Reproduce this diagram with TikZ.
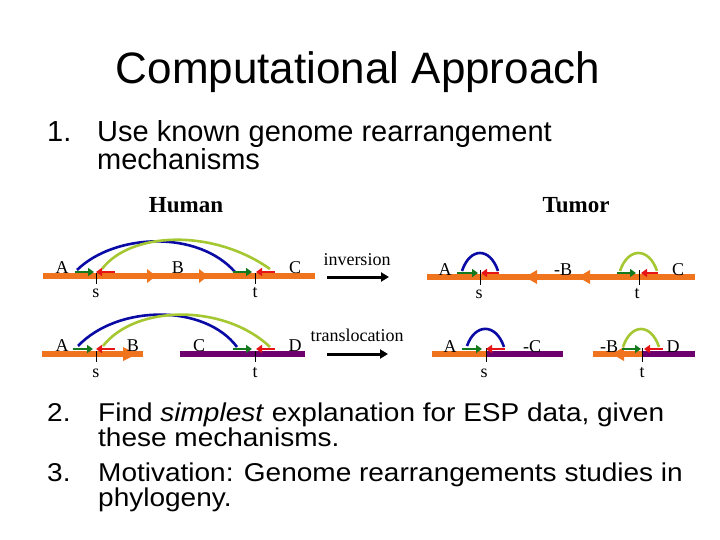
\documentclass[tikz,border=0pt]{standalone}
\usepackage{fontspec}
\setmainfont{Liberation Sans}
\newfontfamily\serif{Liberation Serif}
\usetikzlibrary{arrows.meta}
\definecolor{gorange}{RGB}{240,115,30}
\definecolor{gpurple}{RGB}{110,0,110}
\definecolor{gblue}{RGB}{10,10,165}
\definecolor{gyellow}{RGB}{165,200,50}
\definecolor{ggreen}{RGB}{20,120,30}
\definecolor{gred}{RGB}{230,20,20}
\begin{document}
\begin{tikzpicture}[x=1pt,y=-1pt,
  lbl/.style={font=\serif\fontsize{18}{21}\selectfont, anchor=base, inner sep=0pt},
  head/.style={font=\serif\bfseries\fontsize{23}{26}\selectfont, anchor=base, inner sep=0pt},
  op/.style={font=\serif\fontsize{18}{21}\selectfont, anchor=base, inner sep=0pt},
  item/.style={anchor=base west, inner sep=0pt, font=\fontsize{29}{34}\selectfont},
  itemb/.style={anchor=base west, inner sep=0pt, font=\fontsize{28}{32}\selectfont},
  chrom/.style={line width=6pt},
  tick/.style={line width=0.9pt, black},
  arcb/.style={line width=2.6pt, gblue},
  arcy/.style={line width=2.6pt, gyellow},
  garr/.style={line width=2.6pt, ggreen, -{Triangle[length=6pt,width=8pt]}},
  rarr/.style={line width=2.6pt, gred, -{Triangle[length=6pt,width=8pt]}},
  opar/.style={line width=3pt, black, -{Triangle[length=8pt,width=9pt]}}
]
\useasboundingbox (0,0) rectangle (720,540);
\fill[white] (0,0) rectangle (720,540);

% title and text
\node[anchor=base, inner sep=0pt, font=\fontsize{44}{50}\selectfont] (title) at (358,84) {Computational Approach};
\node[item] (n1) at (47,142) {1.};
\node[item] (i1a) at (97,142) {Use known genome rearrangement};
\node[item] (i1b) at (97,170) {mechanisms};
\node[itemb] (n2) at (47,421) {\scalebox{1}[0.92]{2.}};
\node[itemb] (i2a) at (98,421) {\scalebox{1}[0.92]{Find \textit{simplest} explanation for ESP data, given}};
\node[itemb] (i2b) at (98,446) {\scalebox{1}[0.92]{these mechanisms.}};
\node[itemb] (n3) at (47,481) {\scalebox{1}[0.92]{3.}};
\node[itemb] (i3a) at (98,481) {\scalebox{1}[0.92]{Motivation: Genome rearrangements studies in}};
\node[itemb] (i3b) at (98,506) {\scalebox{1}[0.92]{phylogeny.}};

\node[head] (human) at (186,213) {Human};
\node[head] (tumor) at (576,213) {Tumor};

% ===== Row 1 Human =====
\draw[chrom, gorange] (43,276) -- (315,276);
\fill[gorange] (147,269) -- (156,276) -- (147,283) -- cycle;
\fill[gorange] (199,269) -- (208,276) -- (199,283) -- cycle;
\draw[tick] (96,273) -- (96,284);
\draw[tick] (255,273) -- (255,284);
\draw[arcb] (77,270) .. controls (115,233) and (198,230) .. (235,272);
\draw[arcy] (102,269) .. controls (130,232) and (212,228) .. (270,269);
\draw[garr] (75,272) -- (94,272);
\draw[rarr] (115,272) -- (96,272);
\draw[garr] (233,272) -- (252,272);
\draw[rarr] (275,272) -- (256,272);
\node[lbl] (h1A) at (62,273) {A};
\node[lbl] (h1B) at (178,273) {B};
\node[lbl] (h1C) at (295,273) {C};
\node[lbl] (h1s) at (96,297) {s};
\node[lbl] (h1t) at (255,297) {t};

% inversion arrow
\node[op] (inv) at (357,265) {inversion};
\coordinate (inv1) at (327,277);
\coordinate (inv2) at (389,277);
\draw[opar] (inv1) -- (inv2);

% ===== Row 1 Tumor =====
\draw[chrom, gorange] (427,277) -- (695,277);
\fill[gorange] (537,270) -- (525,277) -- (537,284) -- cycle;
\fill[gorange] (590,270) -- (578,277) -- (590,284) -- cycle;
\draw[tick] (480,270) -- (480,285);
\draw[tick] (639,270) -- (639,285);
\draw[arcb] (462,271) .. controls (470,247) and (490,247) .. (498,271);
\draw[arcy] (620,271) .. controls (628,247) and (649,247) .. (657,271);
\draw[garr] (457,273) -- (478,273);
\draw[rarr] (499,273) -- (481,273);
\draw[garr] (617,273) -- (636,273);
\draw[rarr] (658,273) -- (641,273);
\node[lbl] (t1A) at (445,275) {A};
\node[lbl] (t1B) at (563,275) {-B};
\node[lbl] (t1C) at (678,275) {C};
\node[lbl] (t1s) at (479,298) {s};
\node[lbl] (t1t) at (637,298) {t};

% ===== Row 2 Human =====
\draw[chrom, gorange] (42,354) -- (143,354);
\fill[gorange] (123,347) -- (137,354) -- (123,361) -- cycle;
\draw[chrom, gpurple] (180,354) -- (305,354);
\draw[tick] (96,351) -- (96,362);
\draw[tick] (255,351) -- (255,362);
\draw[arcb] (78,346) .. controls (118,304) and (205,304) .. (237,347);
\draw[arcy] (103,346) .. controls (136,304) and (225,304) .. (270,347);
\draw[garr] (73,349) -- (93,349);
\draw[rarr] (115,349) -- (96,349);
\draw[garr] (233,349) -- (252,349);
\draw[rarr] (275,349) -- (256,349);
\node[lbl] (h2A) at (62,351) {A};
\node[lbl] (h2B) at (133,351) {B};
\node[lbl] (h2C) at (199,351) {C};
\node[lbl] (h2D) at (295,351) {D};
\node[lbl] (h2s) at (96,377) {s};
\node[lbl] (h2t) at (255,377) {t};

% translocation arrow
\node[op] (trans) at (357,341) {translocation};
\coordinate (tr1) at (327,354);
\coordinate (tr2) at (388,354);
\draw[opar] (tr1) -- (tr2);

% ===== Row 2 Tumor =====
\draw[chrom, gorange] (432,354) -- (486,354);
\draw[chrom, gpurple] (486,354) -- (563,354);
\draw[chrom, gorange] (593,354) -- (642,354);
\fill[gorange] (624,347) -- (612,354) -- (624,361) -- cycle;
\draw[chrom, gpurple] (642,354) -- (695,354);
\draw[tick] (486,348) -- (486,362);
\draw[tick] (642,348) -- (642,362);
\draw[arcb] (467,346) .. controls (475,323) and (496,323) .. (504,347);
\draw[arcy] (623,347) .. controls (631,323) and (651,323) .. (659,347);
\draw[garr] (462,349) -- (482,349);
\draw[rarr] (505,349) -- (486,349);
\draw[garr] (622,349) -- (641,349);
\draw[rarr] (663,349) -- (644,349);
\node[lbl] (t2A) at (450,352) {A};
\node[lbl] (t2C) at (532,352) {-C};
\node[lbl] (t2B) at (609,352) {-B};
\node[lbl] (t2D) at (673,352) {D};
\node[lbl] (t2s) at (484,377) {s};
\node[lbl] (t2t) at (642,377) {t};
\end{tikzpicture}
\end{document}
